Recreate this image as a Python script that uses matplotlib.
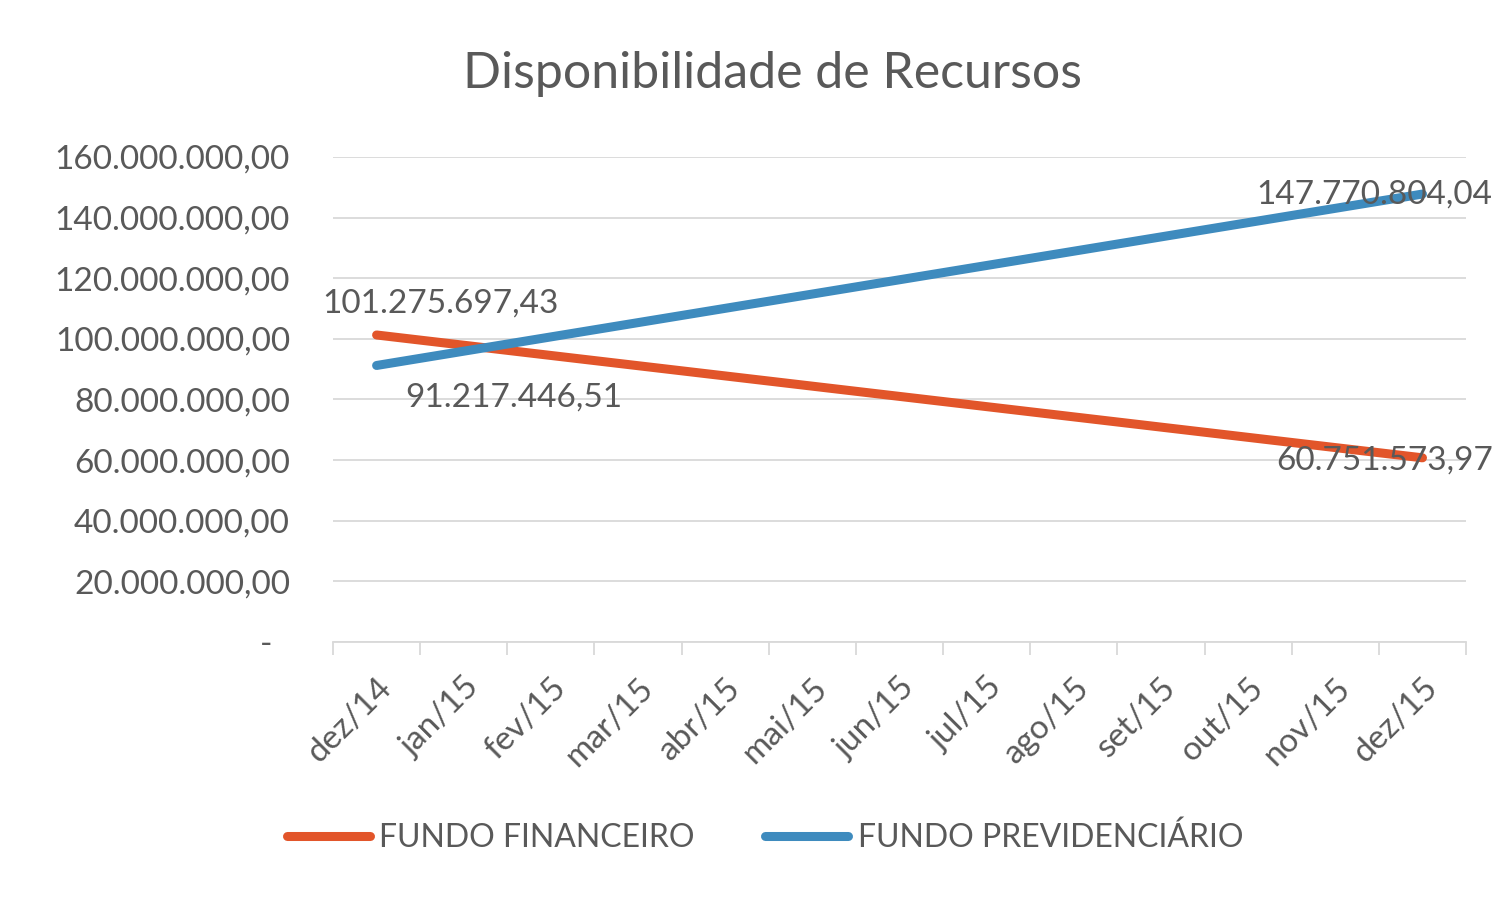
import matplotlib
matplotlib.use("Agg")
import matplotlib.pyplot as plt
from matplotlib.ticker import FixedLocator, FuncFormatter

plt.rcParams['font.family'] = ['Lato', 'DejaVu Sans']

# ==== data ====
meses = ["dez/14", "jan/15", "fev/15", "mar/15", "abr/15", "mai/15", "jun/15",
         "jul/15", "ago/15", "set/15", "out/15", "nov/15", "dez/15"]
# only first and last month carry values, Excel joins the gap with a straight line
fundo_financeiro = [101275697.43] + [None] * 11 + [60751573.97]
fundo_previdenciario = [91217446.51] + [None] * 11 + [147770804.04]
y_ticks = [0, 20e6, 40e6, 60e6, 80e6, 100e6, 120e6, 140e6, 160e6]

COR_FIN = "#E2552A"
COR_PREV = "#3E8BBE"
TXT = "#595959"
GRID = "#D9D9D9"


def br_fmt(v):
    s = f"{v:,.2f}"
    return s.replace(",", "X").replace(".", ",").replace("X", ".")


def pontos(vals):
    xs = [i for i, v in enumerate(vals) if v is not None]
    ys = [v for v in vals if v is not None]
    return xs, ys


fig = plt.figure(figsize=(14.94, 8.97), dpi=100)
ax = fig.add_axes([0.2229, 0.2843, 0.7584, 0.5407])

xf, yf = pontos(fundo_financeiro)
xp, yp = pontos(fundo_previdenciario)
ax.plot(xf, yf, color=COR_FIN, lw=6.5, solid_capstyle='round', label="FUNDO FINANCEIRO", zorder=3)
ax.plot(xp, yp, color=COR_PREV, lw=6.5, solid_capstyle='round', label="FUNDO PREVIDENCIÁRIO", zorder=3)

ax.set_xlim(-0.5, len(meses) - 0.5)
ax.set_ylim(0, 160e6)

# y axis
ax.yaxis.set_major_locator(FixedLocator(y_ticks))
ax.yaxis.set_major_formatter(FuncFormatter(lambda v, p: "-  " if v == 0 else br_fmt(v)))
ax.tick_params(axis='y', length=0, pad=31, labelsize=24, labelcolor=TXT)
ax.grid(axis='y', color=GRID, lw=1.3, zorder=0)

# x axis: labels at centres, ticks at boundaries
ax.set_xticks(range(len(meses)))
ax.set_xticklabels(meses, rotation=45, ha='right', rotation_mode='anchor')
ax.set_xticks([i - 0.5 for i in range(len(meses) + 1)], minor=True)
ax.tick_params(axis='x', which='major', length=0, pad=22, labelsize=24, labelcolor=TXT)
ax.tick_params(axis='x', which='minor', length=9, width=1.3, color=GRID)

for s in ['top', 'right', 'left']:
    ax.spines[s].set_visible(False)
ax.spines['bottom'].set_color(GRID)
ax.spines['bottom'].set_linewidth(1.3)

# data labels
rotulos = [
    (0, fundo_financeiro[0], (46, 23)),
    (0, fundo_previdenciario[0], (99, -23)),
    (12, fundo_previdenciario[12], (-35, 0)),
    (12, fundo_financeiro[12], (-27, -2)),
]
for x, v, off in rotulos:
    ax.annotate(br_fmt(v), xy=(x, v), xytext=off, textcoords='offset points',
                ha='center', va='center', fontsize=24, color=TXT, zorder=4)

fig.text(0.517, 0.918, "Disponibilidade de Recursos", ha='center', va='center',
         fontsize=36, color=TXT)

fig.legend(loc='center', bbox_to_anchor=(0.512, 0.066), ncol=2, frameon=False,
           fontsize=23, labelcolor=TXT, handlelength=2.6, handletextpad=0.3,
           columnspacing=2.2)

fig.savefig("out.png", dpi=100, facecolor='white')
